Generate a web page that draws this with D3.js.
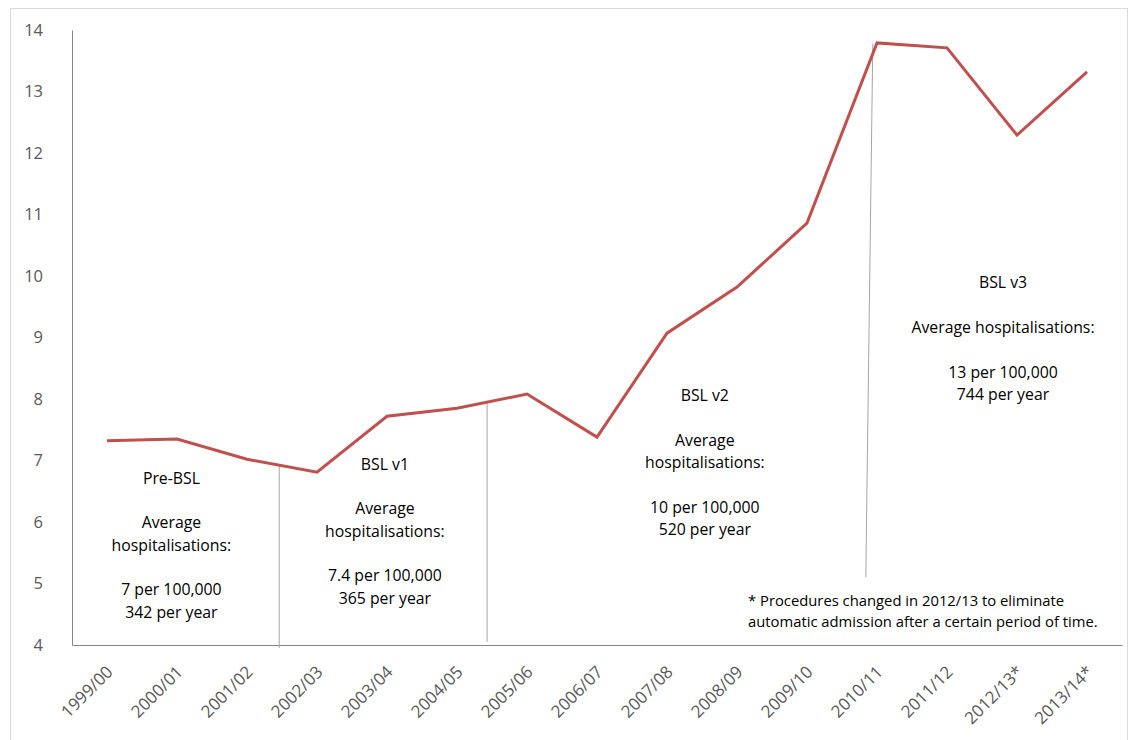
<!DOCTYPE html>
<html>
<head>
<meta charset="utf-8">
<script src="https://cdn.jsdelivr.net/npm/d3@7"></script>
<style>
  body { margin: 0; background: #fff; }
  svg { display: block; font-family: "Open Sans", "Noto Sans", sans-serif; }
</style>
</head>
<body>
<div id="chart"></div>
<script>
// hospitalisation rate per 100,000 by financial year
var years = ["1999/00", "2000/01", "2001/02", "2002/03", "2003/04", "2004/05", "2005/06",
  "2006/07", "2007/08", "2008/09", "2009/10", "2010/11", "2011/12", "2012/13*", "2013/14*"];
var rates = [7.32, 7.35, 7.02, 6.81, 7.72, 7.85, 8.08, 7.38, 9.07, 9.82, 10.86, 13.79, 13.71, 12.29, 13.32];
var yTicks = [4, 5, 6, 7, 8, 9, 10, 11, 12, 13, 14];

// period notes, placed by year index and value
var periods = [
  { lines: ["Pre-BSL", "", "Average", "hospitalisations:", "", "7 per 100,000", "342 per year"], at: 0.92, val: 6.62 },
  { lines: ["BSL v1", "", "Average", "hospitalisations:", "", "7.4 per 100,000", "365 per year"], at: 3.97, val: 6.85 },
  { lines: ["BSL v2", "", "Average", "hospitalisations:", "", "10 per 100,000", "520 per year"], at: 8.54, val: 7.96 },
  { lines: ["BSL v3", "", "Average hospitalisations:", "", "13 per 100,000", "744 per year"], at: 12.8, val: 9.8 }
];
var dividers = [
  { from: 2.46, top: 6.93, bottom: 3.95 },
  { from: 5.43, top: 7.97, bottom: 4.05 },
  { from: 10.94, to: 10.84, top: 13.78, bottom: 5.1 }
];
var footnote = ["* Procedures changed in 2012/13 to eliminate",
  "automatic admission after a certain period of time."];

var W = 1128, H = 740;
var mLeft = 72, mRight = 1122, mTop = 30, mBottom = 645;

var svg = d3.select("#chart").append("svg").attr("width", W).attr("height", H);

svg.append("rect").attr("x", 10.5).attr("y", 8.5).attr("width", W - 11).attr("height", H)
  .attr("fill", "none").attr("stroke", "#d9d9d9");

var x = d3.scaleBand().domain(years).range([mLeft, mRight]);
var xi = d3.scaleLinear().domain([0, years.length - 1])
  .range([x(years[0]) + x.bandwidth() / 2, x(years[years.length - 1]) + x.bandwidth() / 2]);
var y = d3.scaleLinear().domain([4, 14]).range([mBottom, mTop]);

// axes
var yAxis = svg.append("g").attr("transform", "translate(" + mLeft + ",0)")
  .call(d3.axisLeft(y).tickValues(yTicks).tickSize(0).tickPadding(29));
yAxis.select(".domain").attr("stroke", "#868686");
yAxis.selectAll("text").attr("fill", "#595959").style("font-size", "16.5px")
  .style("font-family", "'Open Sans', sans-serif");

var xAxis = svg.append("g").attr("transform", "translate(0," + mBottom + ")")
  .call(d3.axisBottom(x).tickSize(0));
xAxis.select(".domain").attr("stroke", "#868686");
xAxis.selectAll("text")
  .attr("fill", "#595959").style("font-size", "17px")
  .style("font-family", "'Open Sans', sans-serif")
  .attr("text-anchor", "end")
  .attr("y", 0).attr("dy", 0)
  .attr("transform", "translate(7,28) rotate(-45)");

// divider lines
svg.selectAll(".divider").data(dividers).enter().append("line")
  .attr("x1", function (d) { return xi(d.from); })
  .attr("x2", function (d) { return xi(d.to !== undefined ? d.to : d.from); })
  .attr("y1", function (d) { return y(d.top); })
  .attr("y2", function (d) { return y(d.bottom); })
  .attr("stroke", "#a6a6a6").attr("stroke-width", 1);

// data line
var line = d3.line()
  .x(function (d, i) { return xi(i); })
  .y(function (d) { return y(d); });
svg.append("path").datum(rates)
  .attr("d", line)
  .attr("fill", "none")
  .attr("stroke", "#c0504d")
  .attr("stroke-width", 3)
  .attr("stroke-linejoin", "miter");

// period notes
var lh = 22.3;
periods.forEach(function (p) {
  var t = svg.append("text")
    .attr("text-anchor", "middle")
    .attr("fill", "#000")
    .style("font-size", "15.8px");
  p.lines.forEach(function (s, i) {
    t.append("tspan").attr("x", xi(p.at)).attr("y", y(p.val) + i * lh).text(s);
  });
});

var fn = svg.append("text").attr("fill", "#000").style("font-size", "14.8px");
footnote.forEach(function (s, i) {
  fn.append("tspan").attr("x", 748).attr("y", 606 + i * 21).text(s);
});
</script>
</body>
</html>
